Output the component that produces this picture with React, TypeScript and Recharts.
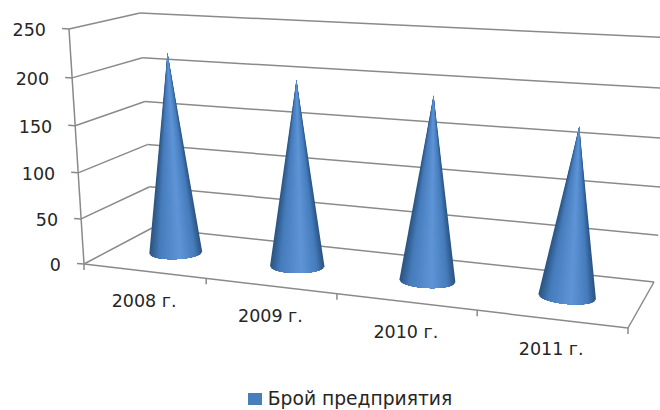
import { BarChart, Bar, XAxis, YAxis, Legend } from "recharts";

const categories = ["2008 г.", "2009 г.", "2010 г.", "2011 г."];
const enterprises = [220, 200, 193, 172];
const valueTicks = [0, 50, 100, 150, 200, 250];
const seriesName = "Брой предприятия";

const chartData = categories.map((year, i) => ({ year, enterprises: enterprises[i] }));

const PLOT = { left: 84, top: 29, width: 544, height: 235 };
const WIDTH = 660;
const HEIGHT = 410;
const FONT = "'DejaVu Sans', sans-serif";
const TEXT = "#262626";
const LINE = "#8a8a8a";

type Pt = [number, number];

// corners of the 3D box the flat plot is mapped on to
const FRONT_BOTTOM: [Pt, Pt] = [[84, 264], [628, 328]];
const FRONT_TOP: [Pt, Pt] = [[69, 29], [652, 61]];
const BACK_BOTTOM: [Pt, Pt] = [[152, 228], [654, 282]];
const BACK_TOP: [Pt, Pt] = [[140, 13], [676, 38]];

const mix = (a: Pt, b: Pt, t: number): Pt => [a[0] + (b[0] - a[0]) * t, a[1] + (b[1] - a[1]) * t];
const warpU = (u: number) => (0.869 * u) / (1 - 0.131 * u);
const warpV = (v: number) => v - 0.05 * v * (1 - v);

// u: along the categories, v: up the value axis, d: 0 front, 1 back
const project = (u: number, v: number, d: number): Pt => {
  const wu = warpU(u);
  const wv = warpV(v);
  const front = mix(mix(FRONT_BOTTOM[0], FRONT_BOTTOM[1], wu), mix(FRONT_TOP[0], FRONT_TOP[1], wu), wv);
  const back = mix(mix(BACK_BOTTOM[0], BACK_BOTTOM[1], wu), mix(BACK_TOP[0], BACK_TOP[1], wu), wv);
  return mix(front, back, d);
};

const toU = (x: number) => (x - PLOT.left) / PLOT.width;
const toV = (y: number) => (PLOT.top + PLOT.height - y) / PLOT.height;

const Seg = ({ a, b }: { a: Pt; b: Pt }) => (
  <line x1={a[0]} y1={a[1]} x2={b[0]} y2={b[1]} stroke={LINE} strokeWidth={1.5} />
);

// value axis tick: label, stub, wall lines and the piece of axis up to the next tick
const ValueTick = ({ y, payload }: any) => {
  const v = toV(y);
  const front = project(0, v, 0);
  const corner = project(0, v, 1);
  const far = project(1, v, 1);
  const next = project(0, Math.min(1, v + 0.2), 0);
  return (
    <g>
      <Seg a={front} b={corner} />
      <Seg a={corner} b={far} />
      <Seg a={front} b={next} />
      <Seg a={[front[0] - 7, front[1] - 0.5]} b={front} />
      {payload.value === 0 && (
        <>
          <Seg a={front} b={project(1, 0, 0)} />
          <Seg a={project(1, 0, 0)} b={far} />
        </>
      )}
      <text x={front[0] - 23} y={front[1] + 7} textAnchor="end" fontFamily={FONT} fontSize={17.5} fill={TEXT}>
        {payload.value}
      </text>
    </g>
  );
};

// category tick: label under the front edge, stubs on the band boundaries
const CategoryTick = ({ x, index, payload }: any) => {
  const u = toU(x);
  const step = 1 / categories.length;
  const label = project(u, 0, 0);
  const end = project(u + step / 2, 0, 0);
  const start = project(u - step / 2, 0, 0);
  return (
    <g>
      <Seg a={end} b={[end[0], end[1] + 6]} />
      {index === 0 && <Seg a={start} b={[start[0], start[1] + 6]} />}
      <text x={label[0]} y={label[1] + 36} textAnchor="middle" fontFamily={FONT} fontSize={17.5} fill={TEXT}>
        {payload.value}
      </text>
    </g>
  );
};

const EDGE = [44, 86, 132];
const MID = [70, 124, 188];
const GLOW = [96, 150, 216];

const shade = (l: number) => {
  const [c0, c1, t] = l < 0.3 ? [EDGE, MID, l / 0.3] : [MID, GLOW, (l - 0.3) / 0.7];
  const c = c0.map((n, k) => Math.round(n + (c1[k] - n) * t));
  return `rgb(${c[0]},${c[1]},${c[2]})`;
};

// bar shape: a cone painted as nested wedges from the tip, dark outside and light at the highlight
const Cone = ({ x, y, width }: any) => {
  const u = toU(x + width / 2);
  const tip = project(u, toV(y), 0.5);
  const center = project(u, 0, 0.5);
  const a = project(u - width / PLOT.width / 2, 0, 0.5);
  const b = project(u + width / PLOT.width / 2, 0, 0.5);
  const rx = (Math.hypot(b[0] - a[0], b[1] - a[1]) / 2) * (1 - 0.15 * u);
  const ry = 6.5 + u;
  const tilt = ((u - 0.35) * 10 * Math.PI) / 180;

  // s runs over the base width, 0 at the left end and 1 at the right end
  const rimPoint = (s: number): string => {
    const ex = rx * (2 * s - 1);
    const ey = ry * Math.sqrt(Math.max(0, 1 - (2 * s - 1) ** 2));
    return `${center[0] + ex * Math.cos(tilt) - ey * Math.sin(tilt)},${center[1] + ex * Math.sin(tilt) + ey * Math.cos(tilt)}`;
  };

  const peak = 0.58;
  const levels = 24;
  const wedges = [];
  for (let k = 0; k < levels; k++) {
    const l = k / levels;
    const from = peak * l;
    const to = 1 - (1 - peak) * l;
    const pts = [`${tip[0]},${tip[1]}`];
    for (let i = 0; i <= 30; i++) pts.push(rimPoint(from + ((to - from) * i) / 30));
    wedges.push(<polygon key={k} points={pts.join(" ")} fill={shade(l)} />);
  }
  return <g>{wedges}</g>;
};

const LegendRow = () => (
  <div style={{ display: "flex", alignItems: "center", justifyContent: "center", fontFamily: FONT, fontSize: 18.7, color: TEXT, lineHeight: "22px" }}>
    <span style={{ width: 14, height: 12, background: "#4a7ebb", marginRight: 6 }} />
    {seriesName}
  </div>
);

const layer = { position: "absolute", left: 0, top: 0 } as const;

export default function App() {
  return (
    <div style={{ ...layer, width: WIDTH, height: HEIGHT, background: "#fff" }}>
      {/* axes and walls sit in their own chart so the cones can cover them */}
      <div style={layer}>
        <BarChart
          width={WIDTH}
          height={HEIGHT}
          data={chartData}
          margin={{
            top: PLOT.top,
            left: PLOT.left - 1,
            right: WIDTH - PLOT.left - PLOT.width,
            bottom: HEIGHT - PLOT.top - PLOT.height - 1,
          }}
        >
          <XAxis dataKey="year" height={1} axisLine={false} tickLine={false} interval={0} tick={CategoryTick} />
          <YAxis width={1} domain={[0, 250]} ticks={valueTicks} axisLine={false} tickLine={false} tick={ValueTick} />
          <Legend
            verticalAlign="middle"
            layout="horizontal"
            content={LegendRow}
            wrapperStyle={{ top: 388, left: 0, width: 700 }}
          />
          <Bar dataKey="enterprises" fill="none" isAnimationActive={false} />
        </BarChart>
      </div>
      <div style={layer}>
        <BarChart
          width={WIDTH}
          height={HEIGHT}
          data={chartData}
          margin={{
            top: PLOT.top,
            left: PLOT.left,
            right: WIDTH - PLOT.left - PLOT.width,
            bottom: HEIGHT - PLOT.top - PLOT.height,
          }}
          barSize={62}
        >
          <XAxis dataKey="year" hide />
          <YAxis hide domain={[0, 250]} />
          <Bar dataKey="enterprises" name={seriesName} fill="#4a7ebb" shape={Cone} isAnimationActive={false} />
        </BarChart>
      </div>
    </div>
  );
}
